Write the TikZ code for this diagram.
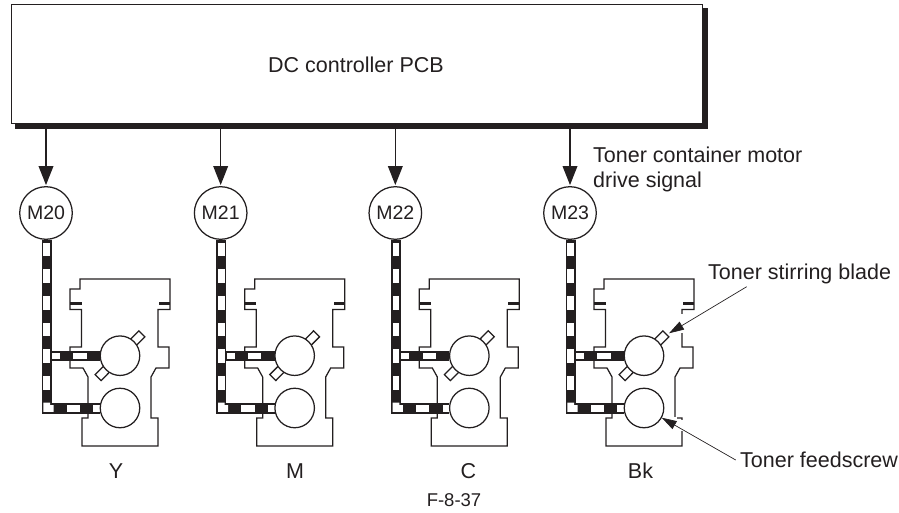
\documentclass[tikz,border=0pt]{standalone}
\usepackage{fontspec}
\setmainfont{Liberation Sans}
\usetikzlibrary{arrows.meta}
\definecolor{ink}{HTML}{231F20}
\tikzset{
  x=1pt,y=-1pt,
  wire/.style={draw=ink,line width=1.25pt},
  sig/.style={draw=ink,line width=1.3pt,-{Triangle[length=19pt,width=14.7pt]}},
  lead/.style={draw=ink,line width=0.7pt,-{Triangle[length=15pt,width=9pt]}},
  motor/.style={circle,draw=ink,line width=1.25pt,minimum size=52.6pt,inner sep=0pt,fill=white,font=\fontsize{19.5}{25}\selectfont,text=ink},
  drum/.style={circle,draw=ink,line width=1.25pt,minimum size=39.5pt,inner sep=0pt,fill=white},
  lbl/.style={font=\fontsize{21.5}{25}\selectfont,text=ink,inner sep=0pt},
  smalllbl/.style={font=\fontsize{18.5}{22}\selectfont,text=ink,inner sep=0pt},
}
\newcommand{\toner}[4]{%
 \begin{scope}[shift={(#1,0)}]
  % housing
  \draw[wire] (80,289) -- (80,279) -- (170,279) -- (170,309.5) -- (158,309.5) -- (158,347) -- (169,347) -- (169,368) -- (156,368) -- (151,377) -- (151,418) -- (158,418) -- (158,446) -- (82,446) -- (82,418) -- (88,418) -- (88,377) -- (83,368) -- (70,368) -- (70,347) -- (81.5,347) -- (81.5,309.5) -- (70,309.5) -- (70,289) -- cycle;
  \fill[ink] (70,301.5) rectangle (81.5,304.5);
  \fill[ink] (159,301.5) rectangle (170,304.5);
  % shaft
  \fill[ink] (41.7,240) rectangle (51.7,413.5);
  \fill[ink] (41.7,403) rectangle (100,413.5);
  \fill[ink] (41.7,351) rectangle (100,361);
  \fill[white] (43.4,242.7) rectangle (50,256.4);
  \fill[white] (43.4,269.3) rectangle (50,283);
  \fill[white] (43.4,296) rectangle (50,309.7);
  \fill[white] (43.4,322.7) rectangle (50,336.4);
  \fill[white] (43.4,349.3) rectangle (50,363);
  \fill[white] (43.4,376) rectangle (50,389.7);
  \fill[white] (43.4,402.7) -- (50,402.7) -- (50,405) -- (53.5,405) -- (53.5,411.8) -- (43.4,411.8) -- cycle;
  \fill[white] (52,352.7) rectangle (60,359.3);
  \fill[white] (73.3,352.7) rectangle (86.7,359.3);
  \fill[white] (66.7,405) rectangle (80,411.8);
  \fill[white] (93.3,405) rectangle (100,411.8);
  % blades
  \draw[wire,fill=white] (136.4,345.3) -- (130.5,339.3) -- (138.9,330.8) -- (144.9,336.8) -- cycle;
  \draw[wire,fill=white] (103.6,366.1) -- (109.5,372.1) -- (101.1,380.6) -- (95.1,374.6) -- cycle;
  \node[drum] (#2u) at (120,355.7) {};
  \node[drum] (#2l) at (120,408) {};
  \node[motor] (#2m) at (46,213) {#3};
  \node[lbl,anchor=base] (#2t) at (#4,478) {#2};
 \end{scope}}
\begin{document}
\begin{tikzpicture}
\useasboundingbox (0,0) rectangle (899,513);
\fill[ink] (15,8) rectangle (707.7,129.3);
\node[draw=ink,line width=1.1pt,fill=white,minimum width=690.7pt,minimum height=119pt,inner sep=0pt,anchor=north west] (pcb) at (11,4) {};
\node[lbl,anchor=base] (pcbt) at (356,73) {DC controller PCB};
\toner{0}{Y}{M20}{116}
\toner{174.67}{M}{M21}{120.3}
\toner{349.33}{C}{M22}{119}
\toner{524}{Bk}{M23}{116.5}
\foreach \n in {Y,M,C,Bk}{
  \coordinate (s\n) at (\n m.north |- pcb.south);
  \draw[sig] (s\n) -- ([yshift=1pt]\n m.north);
}
\node[lbl,align=left,anchor=north west] (sigt) at (593,146.7) {Toner container motor\\drive signal};
\node[lbl,anchor=base west] (blade) at (708,279.3) {Toner stirring blade};
\node[lbl,anchor=base west] (screw) at (740,467.7) {Toner feedscrew};
\node[smalllbl,anchor=base] (fig) at (454,506.7) {F-8-37};
\coordinate (bt) at (669,333.3);
\coordinate (st) at (661.7,417.7);
\coordinate (bs) at (746.7,286.7);
\coordinate (ss) at (735.7,460);
\fill[white] (680,313.5) rectangle (684,333);
\fill[white] (680,419.5) rectangle (684,431);
\fill[white] (673.5,416.5) rectangle (676.5,419.5);
\draw[lead] (bs) -- (bt);
\draw[lead] (ss) -- (st);
\end{tikzpicture}
\end{document}
